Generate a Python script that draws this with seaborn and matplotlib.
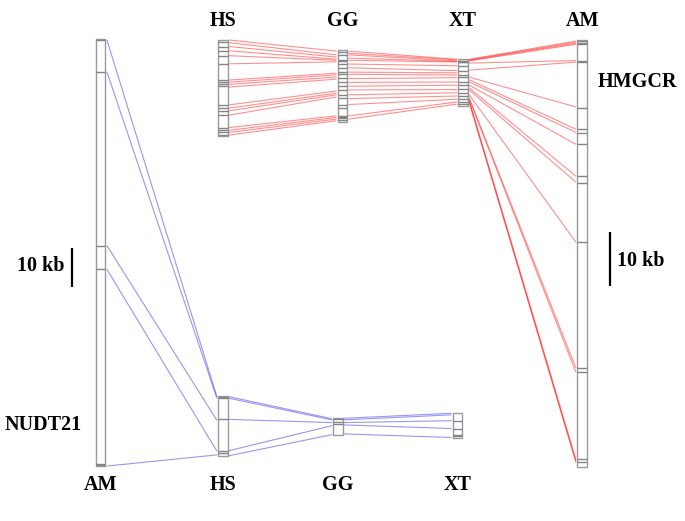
import numpy as np
import pandas as pd
import seaborn as sns
import matplotlib.pyplot as plt
from matplotlib.patches import Rectangle

# ---------------- data (kb from gene start) ----------------
species_hmgcr = ['HS', 'GG', 'XT', 'AM']
species_nudt21 = ['AM', 'HS', 'GG', 'XT']

hmgcr_len = [17.8, 13.3, 8.6, 79.0]
nudt21_len = [109.5, 15.4, 4.3, 6.4]

# exon boundary marks
hmgcr_exons_hs = [0.5, 1.3, 2.1, 3.0, 4.6, 7.5, 7.8, 8.3, 8.7, 12.1, 12.6, 13.2, 14.0, 16.3, 16.8, 17.2, 17.7]
hmgcr_exons_gg = [0.4, 0.9, 1.85, 1.95, 2.6, 3.3, 4.0, 4.5, 5.2, 6.0, 6.6, 7.4, 8.3, 8.9, 10.1, 10.8, 12.2, 12.45, 12.55, 13.0]
hmgcr_exons_xt = [0.25, 0.35, 0.45, 0.55, 1.24, 2.11, 2.91, 3.33, 4.15, 4.76, 5.56, 6.19, 6.80, 7.41, 7.85, 8.28]
hmgcr_exons_am = [0.1, 0.5, 0.7, 3.8, 4.1, 12.5, 16.4, 17.2, 19.3, 25.2, 26.4, 37.4, 60.7, 61.4, 77.5, 78.1]

nudt21_exons_am = [0.2, 8.5, 53.0, 59.1, 108.9, 109.2]
nudt21_exons_hs = [0.2, 0.4, 6.0, 14.0, 14.7]
nudt21_exons_gg = [0.3, 0.9, 1.5]
nudt21_exons_xt = [1.9, 4.1, 5.6, 5.9]

# links between neighbouring species (start kb, end kb)
hmgcr_hs_gg_a = [0.1, 0.6, 1.3, 2.1, 3.0, 4.5, 7.5, 7.9, 8.3, 8.8, 12.1, 12.7, 13.2, 14.0, 16.3, 16.8, 17.2, 17.7]
hmgcr_hs_gg_b = [0.2, 0.9, 1.3, 1.7, 1.9, 2.2, 4.3, 4.6, 5.0, 5.4, 7.6, 8.0, 8.3, 8.7, 12.2, 12.5, 12.8, 13.1]
hmgcr_gg_xt_a = [0.2, 0.6, 0.9, 1.5, 1.9, 2.6, 3.3, 4.1, 4.5, 5.3, 6.0, 6.7, 7.4, 8.3, 9.0, 10.1, 12.2, 12.8]
hmgcr_gg_xt_b = [0.0, 0.1, 0.3, 0.4, 0.5, 1.2, 2.1, 2.5, 2.9, 3.4, 4.2, 4.8, 5.6, 6.2, 6.8, 7.4, 7.9, 8.3]
hmgcr_xt_am_a = [0.0, 0.1, 0.2, 0.3, 0.7, 2.0, 3.3, 3.8, 4.2, 4.8, 5.3, 5.7, 6.6, 7.2, 7.4, 7.7, 7.9, 8.1]
hmgcr_xt_am_b = [0.2, 0.4, 0.6, 0.8, 3.8, 4.1, 12.4, 16.5, 17.1, 19.3, 25.2, 26.3, 37.4, 60.7, 61.5, 77.6, 78.0, 78.1]

nudt21_am_hs_a = [0.3, 8.5, 53.0, 59.1, 109.5]
nudt21_am_hs_b = [0.1, 0.5, 6.2, 14.1, 15.1]
nudt21_hs_gg_a = [0.2, 0.6, 6.0, 14.0, 15.3]
nudt21_hs_gg_b = [0.1, 0.4, 1.1, 1.9, 4.2]
nudt21_gg_xt_a = [0.0, 0.4, 1.1, 1.7, 4.0]
nudt21_gg_xt_b = [0.0, 0.4, 1.9, 3.9, 6.2]

scale_bar_kb = 10

# ---------------- layout (canvas pixels) ----------------
hmgcr_x = [218.3, 337.7, 458.3, 577.3]
hmgcr_top = [39.5, 50.0, 59.3, 40.0]
hmgcr_scale = 5.4      # px per kb
nudt21_x = [96.0, 218.3, 333.3, 452.7]
nudt21_top = [39.0, 396.0, 418.3, 413.3]
nudt21_scale = 3.9
bar_w = 9.5

sns.set_theme(style="white")
plt.rcParams['font.family'] = ['Liberation Serif', 'DejaVu Serif']

fig = plt.figure(figsize=(6.85, 5.21), dpi=100)
ax = fig.add_axes([0, 0, 1, 1])


def draw_gene(xs, tops, scale, lengths, exons):
    for x, top, ln, ex in zip(xs, tops, lengths, exons):
        ax.add_patch(Rectangle((x, top), bar_w, ln * scale, facecolor='white',
                               edgecolor='#9a9a9a', lw=1.0, zorder=3))
        ax.hlines([top + e * scale for e in ex], x, x + bar_w,
                  color='#858585', lw=1.0, zorder=4)


def link_rows(gene, xs, tops, scale, pairs):
    rows = []
    k = 0
    for i, (a_list, b_list) in enumerate(pairs):
        x0 = xs[i] + bar_w + 1.5
        x1 = xs[i + 1] - 1.5
        for a, b in zip(a_list, b_list):
            rows.append((gene, f'{gene}{k}', x0, tops[i] + a * scale))
            rows.append((gene, f'{gene}{k}', x1, tops[i + 1] + b * scale))
            k += 1
    return rows


rows = link_rows('HMGCR', hmgcr_x, hmgcr_top, hmgcr_scale,
                 [(hmgcr_hs_gg_a, hmgcr_hs_gg_b), (hmgcr_gg_xt_a, hmgcr_gg_xt_b),
                  (hmgcr_xt_am_a, hmgcr_xt_am_b)])
rows += link_rows('NUDT21', nudt21_x, nudt21_top, nudt21_scale,
                  [(nudt21_am_hs_a, nudt21_am_hs_b), (nudt21_hs_gg_a, nudt21_hs_gg_b),
                   (nudt21_gg_xt_a, nudt21_gg_xt_b)])
links = pd.DataFrame(rows, columns=['gene', 'link', 'x', 'y'])

sns.lineplot(data=links, x='x', y='y', hue='gene', units='link', estimator=None,
             sort=False, palette={'HMGCR': '#ff2020', 'NUDT21': '#3030e0'},
             alpha=0.5, lw=0.8, legend=False, ax=ax)
ax.set_xlim(0, 685)
ax.set_ylim(521, 0)
ax.axis('off')

draw_gene(hmgcr_x, hmgcr_top, hmgcr_scale, hmgcr_len,
          [hmgcr_exons_hs, hmgcr_exons_gg, hmgcr_exons_xt, hmgcr_exons_am])
draw_gene(nudt21_x, nudt21_top, nudt21_scale, nudt21_len,
          [nudt21_exons_am, nudt21_exons_hs, nudt21_exons_gg, nudt21_exons_xt])

# scale bars
ax.vlines(72, 248, 248 + scale_bar_kb * nudt21_scale, color='black', lw=1.6)
ax.vlines(610.5, 232, 232 + scale_bar_kb * hmgcr_scale, color='black', lw=1.6)

tkw = dict(fontsize=14.5, fontweight='bold', color='black')
for sp, x in zip(species_hmgcr, hmgcr_x):
    ax.text(x + bar_w / 2, 21, sp, ha='center', va='center', **tkw)
for sp, x in zip(species_nudt21, nudt21_x):
    ax.text(x + bar_w / 2, 485, sp, ha='center', va='center', **tkw)
ax.text(598, 82, 'HMGCR', ha='left', va='center', **tkw)
ax.text(5, 425, 'NUDT21', ha='left', va='center', **tkw)
ax.text(65, 266, f'{scale_bar_kb} kb', ha='right', va='center', **tkw)
ax.text(617, 261, f'{scale_bar_kb} kb', ha='left', va='center', **tkw)

fig.savefig('out.png', dpi=100)
